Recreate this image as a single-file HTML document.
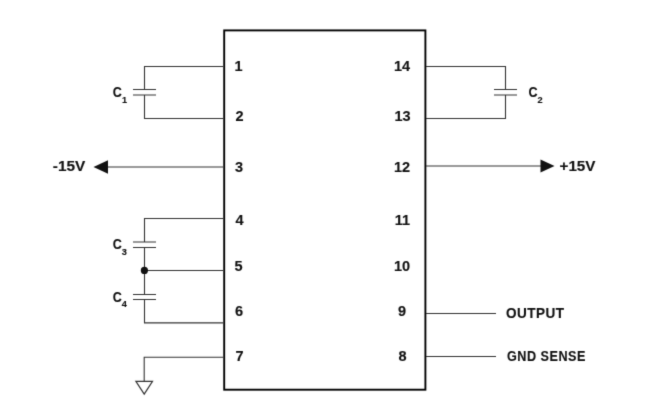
<!DOCTYPE html>
<html>
<head>
<meta charset="utf-8">
<style>
html,body{margin:0;padding:0;background:#fff;}
body{width:666px;height:418px;overflow:hidden;}
svg{display:block;}
text{font-family:"Liberation Sans",sans-serif;font-weight:bold;fill:#111;stroke:#111;stroke-width:0.15px;}
</style>
</head>
<body>
<svg width="666" height="418" viewBox="0 0 666 418">
<defs><filter id="bl" x="0" y="0" width="666" height="418" filterUnits="userSpaceOnUse" color-interpolation-filters="sRGB"><feConvolveMatrix order="3" kernelMatrix="0.0144 0.0912 0.0144 0.0912 0.5776 0.0912 0.0144 0.0912 0.0144" edgeMode="duplicate"/></filter></defs>
<rect x="0" y="0" width="666" height="418" fill="#fff"/>
<g filter="url(#bl)">
<!-- IC box -->
<rect x="224.2" y="30.4" width="201.2" height="359.3" fill="none" stroke="#000" stroke-width="1.9"/>
<g fill="none" stroke="#333" stroke-width="1.1">
  <!-- C1 -->
  <path d="M223 66.5H144.5V89.5M144.5 95V118.5H223"/>
  <path d="M133 89.5H156M133 95H156"/>
  <!-- C2 -->
  <path d="M426 66.5H505.5V89.5M505.5 95V118.5H426"/>
  <path d="M494 89.5H517M494 95H517"/>
  <!-- pin3 -->
  <path d="M223 167H104"/>
  <!-- pin12 -->
  <path d="M426 166H545"/>
  <!-- C3 / C4 -->
  <path d="M223 218.5H144.5V242M144.5 247.5V294.5M144.5 299.5V322.9H223"/>
  <path d="M133 242H156M133 247.5H156M133 294.5H156M133 299.5H156"/>
  <path d="M144.5 270.5H223"/>
  <!-- pin7 ground -->
  <path d="M223 357.3H144.2V381.3"/>
  <path d="M135.9 381.3H152.5L144.2 394.1Z" stroke-width="1.2"/>
  <!-- pin9 / pin8 -->
  <path d="M426 313.5H496M426 356.5H496"/>
</g>
<circle cx="144.4" cy="270.4" r="3.6" fill="#111"/>
<polygon points="93.5,167 108,160.3 108,173.7" fill="#111"/>
<polygon points="554.5,166 540.5,159.5 540.5,172.5" fill="#111"/>
<!-- pin numbers left -->
<g font-size="14.5" text-anchor="middle">
  <text x="238.6" y="71">1</text>
  <text x="239.5" y="121.3">2</text>
  <text x="239" y="171.8">3</text>
  <text x="239.5" y="224.6">4</text>
  <text x="238.5" y="270.9">5</text>
  <text x="239" y="316.3">6</text>
  <text x="239.5" y="361.2">7</text>
  <text x="402" y="71">14</text>
  <text x="402.5" y="121.3">13</text>
  <text x="402" y="171.8">12</text>
  <text x="402.5" y="225">11</text>
  <text x="402" y="270.9">10</text>
  <text x="402" y="316.3">9</text>
  <text x="402.5" y="360.8">8</text>
</g>
<g font-size="14.5">
  <text x="52.8" y="170.5" textLength="32.5" lengthAdjust="spacingAndGlyphs">-15V</text>
  <text x="559.5" y="170.6" textLength="36" lengthAdjust="spacingAndGlyphs">+15V</text>
  <text x="506" y="318.4" textLength="58.5" lengthAdjust="spacingAndGlyphs" letter-spacing="0.5">OUTPUT</text>
  <text x="507" y="361" textLength="79" lengthAdjust="spacingAndGlyphs" letter-spacing="0.6">GND SENSE</text>
</g>
<g font-size="15.5">
  <text x="112.8" y="96.9" textLength="9.1" lengthAdjust="spacingAndGlyphs">C</text>
  <text x="528.6" y="97.1" textLength="9.1" lengthAdjust="spacingAndGlyphs">C</text>
  <text x="112.8" y="249.2" textLength="9.1" lengthAdjust="spacingAndGlyphs">C</text>
  <text x="112.8" y="301.7" textLength="9.1" lengthAdjust="spacingAndGlyphs">C</text>
</g>
<g font-size="9.2">
  <text x="122" y="102.8">1</text>
  <text x="537.4" y="103">2</text>
  <text x="121.8" y="255.1">3</text>
  <text x="121.8" y="306.7">4</text>
</g>
</g>
</svg>
</body>
</html>
